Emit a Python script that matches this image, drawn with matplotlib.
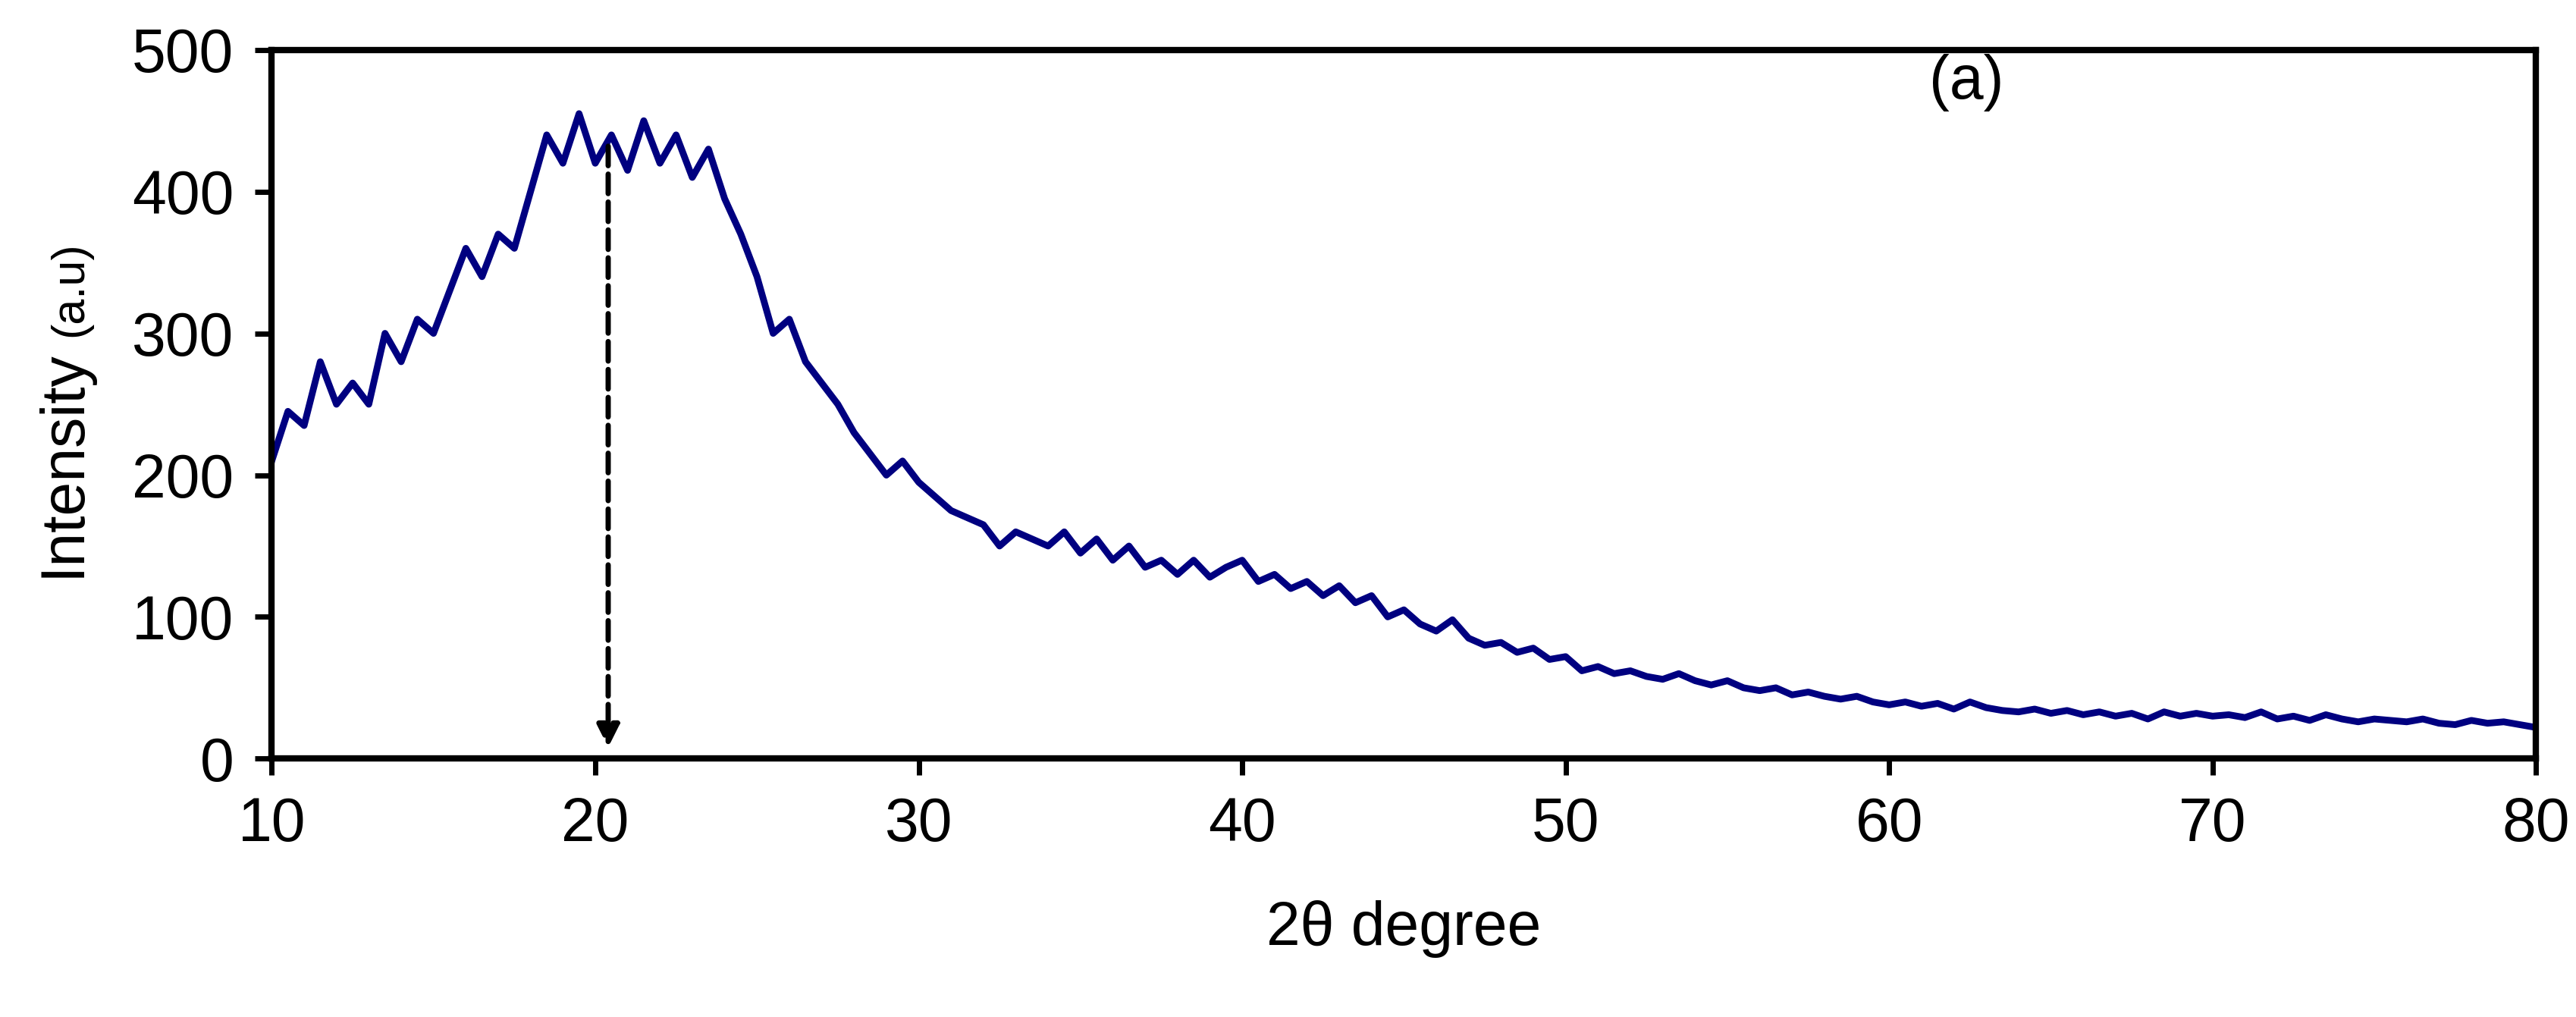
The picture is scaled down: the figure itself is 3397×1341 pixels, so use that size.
import matplotlib
matplotlib.use("Agg")
import matplotlib.pyplot as plt
plt.rcParams['font.family'] = ['Liberation Sans', 'DejaVu Sans']

two_theta = [10+0.5*i for i in range(141)]
intensity = [210,245,235,280,250,265,250,300,280,310,300,330,360,340,370,360,400,440,420,455,
420,440,415,450,420,440,410,430,395,370,340,300,310,280,265,250,230,215,200,210,
195,185,175,170,165,150,160,155,150,160,145,155,140,150,135,140,130,140,128,135,
140,125,130,120,125,115,122,110,115,100,105,95,90,98,85,80,82,75,78,70,
72,62,65,60,62,58,56,60,55,52,55,50,48,50,45,47,44,42,44,40,
38,40,37,39,35,40,36,34,33,35,32,34,31,33,30,32,28,33,30,32,
30,31,29,33,28,30,27,31,28,26,28,27,26,28,25,24,27,25,26,24,22]
xticks = [10,20,30,40,50,60,70,80]
yticks = [0,100,200,300,400,500]

fig = plt.figure(figsize=(16.985,6.705), dpi=200)
ax = fig.add_axes([0.1055,0.254,0.879,0.697])
ax.plot(two_theta, intensity, color='#000080', lw=3.2)
ax.set_xlim(10,80); ax.set_ylim(0,500)
ax.set_xticks(xticks); ax.set_yticks(yticks)
for s in ax.spines.values(): s.set_linewidth(3)
ax.tick_params(labelsize=29, width=2.5, length=8, direction='out', pad=10)
ax.set_xlabel('2θ degree', fontsize=29, labelpad=22)
ax.text(-0.092,0.256,'Intensity',rotation=90,fontsize=29,transform=ax.transAxes,ha='center',va='bottom')
ax.text(-0.089,0.595,'(a.u)',rotation=90,fontsize=22,transform=ax.transAxes,ha='center',va='bottom')
ax.text(62.4,477,'(a)',fontsize=29,ha='center',va='center')
ax.annotate('', xy=(20.4,5), xytext=(20.4,435),
            arrowprops=dict(arrowstyle='-|>', linestyle='--', lw=2.5, color='black', mutation_scale=22))
fig.savefig('out.png', dpi=200)
